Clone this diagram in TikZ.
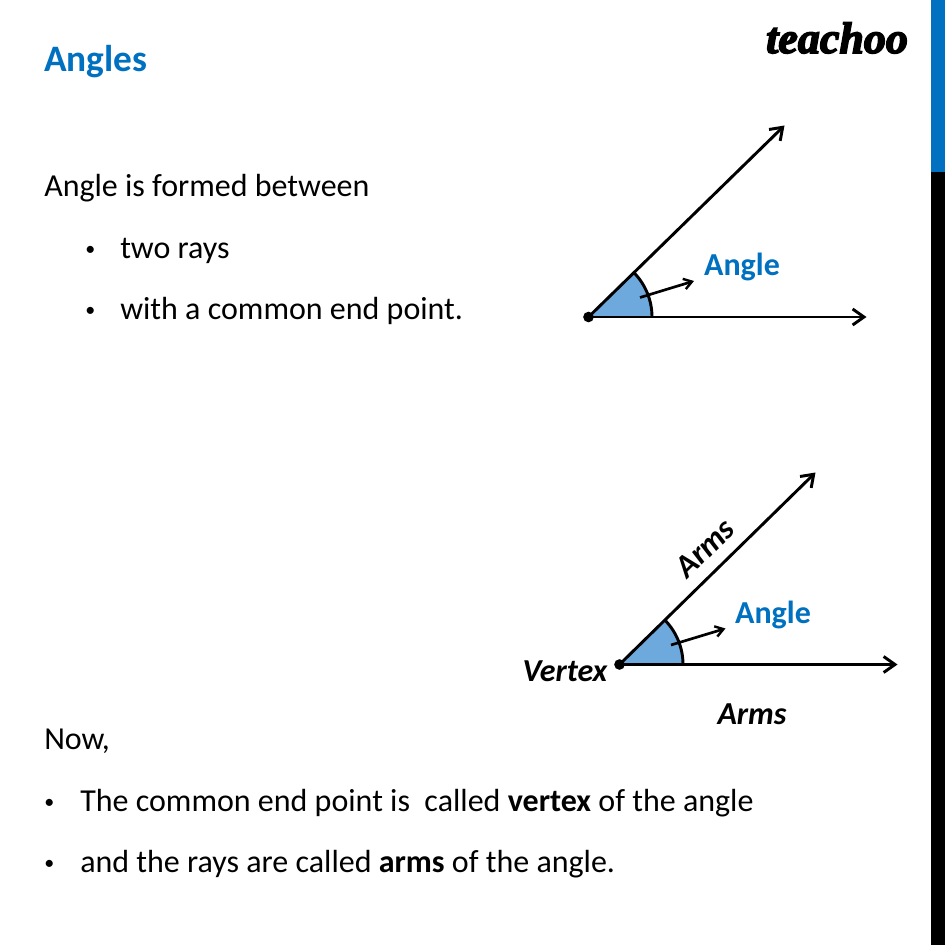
\documentclass[tikz,border=0pt]{standalone}
\usepackage{fontspec}
\usetikzlibrary{arrows.meta}
\setmainfont{Carlito}
\newfontfamily\logofont[FakeBold=3.5]{Liberation Serif}
\definecolor{tblue}{HTML}{0070C0}
\definecolor{wedgeblue}{HTML}{6DA9DC}
\tikzset{
  x=0.75pt,y=-0.75pt,
  body/.style={anchor=base west,inner sep=0pt,font=\fontsize{24}{28}\selectfont,text=black},
  bulletmark/.style={anchor=base west,inner sep=0pt,font=\fontsize{15}{18}\selectfont,text=black},
  head/.style={anchor=base west,inner sep=0pt,font=\fontsize{28}{32}\selectfont\bfseries,text=tblue},
  anglelabel/.style={inner sep=0pt,font=\fontsize{24}{28}\selectfont\bfseries,text=tblue},
  armlabel/.style={inner sep=0pt,font=\fontsize{24}{28}\selectfont\bfseries\itshape,text=black},
  ray/.style={line width=2.2pt,-{Straight Barb[length=8.5pt,width=12pt,line width=2.2pt]}},
  pointer/.style={line width=2pt,-{Straight Barb[length=6pt,width=8pt,line width=1.8pt]}},
  wedge/.style={fill=wedgeblue,draw=none},
  wedgeedge/.style={line width=2.2pt},
  dotmark/.style={circle,fill=black,inner sep=0pt,minimum size=8pt},
}
\begin{document}
\begin{tikzpicture}
\useasboundingbox (0,0) rectangle (945,945);
\fill[white] (0,0) rectangle (945,945);
\fill[tblue] (931,0) rectangle (945,172);
\fill[black] (931,172) rectangle (945,945);
\node[head] (title) at (44,72) {Angles};
\node[body] (intro) at (44,196.5) {Angle is formed between};
\node[bulletmark] (b1) at (85,255) {•};
\node[body] (t1) at (120,258) {two rays};
\node[bulletmark] (b2) at (85,316) {•};
\node[body] (t2) at (120,319.5) {with a common end point.};
\node[body] (now) at (44,749.5) {Now,};
\node[bulletmark] (b3) at (44,808) {•};
\node[body] (t3) at (80,811.5) {The common end point is\ \ called \textbf{vertex} of the angle};
\node[bulletmark] (b4) at (44,869) {•};
\node[body] (t4) at (80,872) {and the rays are called \textbf{arms} of the angle.};
\node[anchor=center,inner sep=0pt,font=\logofont\bfseries\itshape\fontsize{33}{36}\selectfont] (logo) at (837,38) {teachoo};
% first figure
\coordinate (v1) at (588.5,317);
\coordinate (h1) at (866.5,317);
\coordinate (d1) at (784.5,125.5);
\coordinate (w1a) at (652,317);
\coordinate (p1a) at (640,297.5);
\coordinate (p1b) at (694,281);
\fill[wedge] (v1) -- (w1a) arc[start angle=0,end angle=-44.4,radius=63.5] -- cycle;
\draw[wedgeedge] (w1a) arc[start angle=0,end angle=-44.4,radius=63.5];
\draw[ray] (v1) -- (h1);
\draw[ray] (v1) -- (d1);
\draw[pointer] (p1a) -- (p1b);
\node[dotmark] (dot1) at (v1) {};
\node[anglelabel] (ang1) at (742,267) {Angle};
% second figure
\coordinate (v2) at (619.5,664.5);
\coordinate (h2) at (897.5,664.5);
\coordinate (d2) at (815.5,472.5);
\coordinate (w2a) at (683,664.5);
\coordinate (p2a) at (671,645);
\coordinate (p2b) at (725.5,628.5);
\fill[wedge] (v2) -- (w2a) arc[start angle=0,end angle=-44.4,radius=63.5] -- cycle;
\draw[wedgeedge] (w2a) arc[start angle=0,end angle=-44.4,radius=63.5];
\draw[ray] (v2) -- (h2);
\draw[ray] (v2) -- (d2);
\draw[pointer] (p2a) -- (p2b);
\node[dotmark] (dot2) at (v2) {};
\node[anglelabel] (ang2) at (773,615) {Angle};
\node[armlabel] (vertex) at (565,671.5) {Vertex};
\node[armlabel] (arms1) at (752,714) {Arms};
\node[armlabel,rotate=44.4] (arms2) at (705,548) {Arms};
\end{tikzpicture}
\end{document}
